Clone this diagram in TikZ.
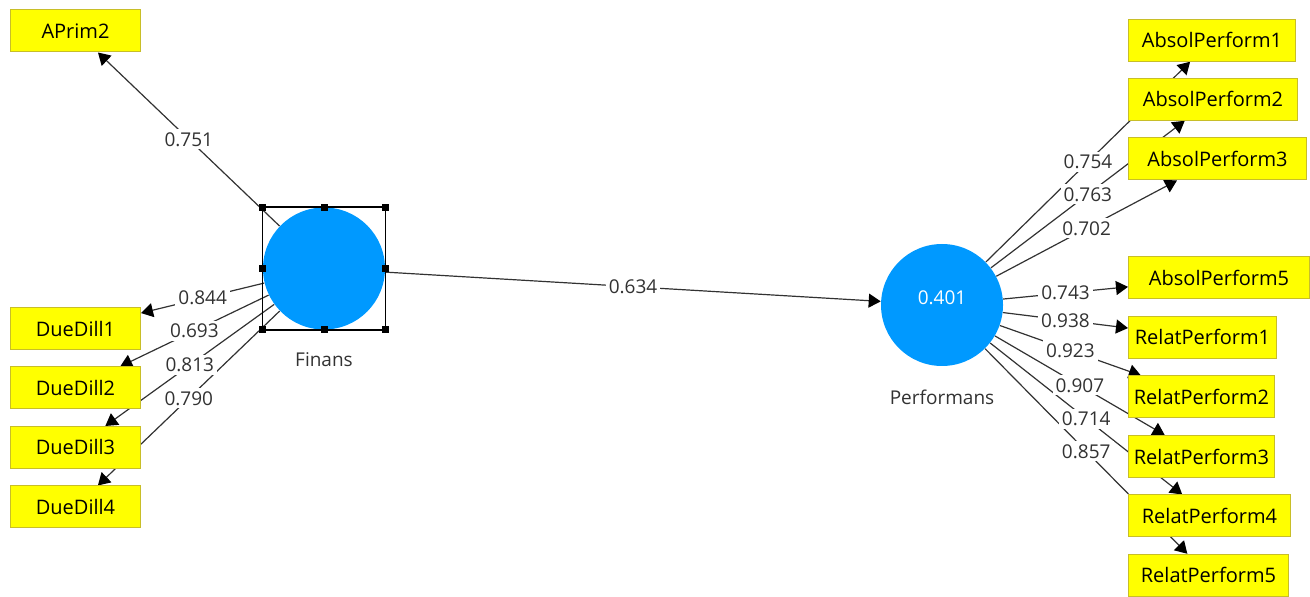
\documentclass[tikz,border=0pt]{standalone}
\usepackage{fontspec}
\setmainfont{Open Sans}
\usetikzlibrary{arrows.meta}

\definecolor{plsblue}{RGB}{0,153,255}
\definecolor{plsyellow}{RGB}{255,255,0}
\definecolor{plsborder}{RGB}{200,190,40}
\definecolor{plsgray}{RGB}{50,50,50}

\pgfdeclarelayer{edges}
\pgfdeclarelayer{weights}
\pgfsetlayers{edges,weights,main}

\tikzset{
	indicator/.style={draw=plsborder, fill=plsyellow, line width=0.5pt, anchor=west,
		minimum height=21pt, inner sep=0pt, font=\fontsize{10}{12}\selectfont},
	construct/.style={circle, fill=plsblue, minimum size=61pt, inner sep=0pt},
	conname/.style={label distance=8pt, text=plsgray, font=\fontsize{9.5}{11}\selectfont},
	loading/.style={draw=plsgray, line width=0.6pt, -{Triangle[length=6pt,width=7pt,color=black]}},
	weight/.style={midway, fill=white, inner sep=1.5pt, text=plsgray, font=\fontsize{9.5}{11}\selectfont}
}

\begin{document}
\begin{tikzpicture}[x=0.5pt,y=-0.5pt]
	\useasboundingbox (0,0) rectangle (1310,597);
	% constructs
		\node[construct, label={[conname]below:Finans}] (Finans) at (324,268.5) {};
		\node[construct, label={[conname]below:Performans},
			label={[text=white, font=\fontsize{9.5}{11}\selectfont, yshift=3.5pt]center:0.401}] (Performans) at (942,305) {};
	% indicators of Finans
		\node[indicator, minimum width=65pt] (APrim2) at (10,31) {APrim2};
		\node[indicator, minimum width=65pt] (DueDill1) at (10,329) {DueDill1};
		\node[indicator, minimum width=65pt] (DueDill2) at (10,388) {DueDill2};
		\node[indicator, minimum width=65pt] (DueDill3) at (10,447.5) {DueDill3};
		\node[indicator, minimum width=65pt] (DueDill4) at (10,507) {DueDill4};
	% indicators of Performans
		\node[indicator, minimum width=83.5pt] (AbsolPerform1) at (1128,40.3) {AbsolPerform1};
		\node[indicator, minimum width=84.5pt] (AbsolPerform2) at (1128,99.3) {AbsolPerform2};
		\node[indicator, minimum width=89pt] (AbsolPerform3) at (1128,159) {AbsolPerform3};
		\node[indicator, minimum width=90.5pt] (AbsolPerform5) at (1128,278) {AbsolPerform5};
		\node[indicator, minimum width=74pt] (RelatPerform1) at (1128,337.3) {RelatPerform1};
		\node[indicator, minimum width=73pt] (RelatPerform2) at (1128,397) {RelatPerform2};
		\node[indicator, minimum width=73pt] (RelatPerform3) at (1128,456.5) {RelatPerform3};
		\node[indicator, minimum width=81pt] (RelatPerform4) at (1128,516) {RelatPerform4};
		\node[indicator, minimum width=80pt] (RelatPerform5) at (1128,575.3) {RelatPerform5};
	% selection frame round Finans
		\draw[line width=0.7pt] (Finans.west |- Finans.north) rectangle (Finans.east |- Finans.south);
		\foreach \h/\v in {west/north, center/north, east/north, east/center,
				east/south, center/south, west/south, west/center}
			\fill (Finans.\h |- Finans.\v) +(-3.5,-3.5) rectangle +(3.5,3.5);
	% loadings and path coefficient
		\foreach \from/\to/\w in {Finans/APrim2/0.751, Finans/DueDill1/0.844,
				Finans/DueDill2/0.693, Finans/DueDill3/0.813, Finans/DueDill4/0.790,
				Finans/Performans/0.634,
				Performans/AbsolPerform1/0.754, Performans/AbsolPerform2/0.763,
				Performans/AbsolPerform3/0.702, Performans/AbsolPerform5/0.743,
				Performans/RelatPerform1/0.938, Performans/RelatPerform2/0.923,
				Performans/RelatPerform3/0.907, Performans/RelatPerform4/0.714,
				Performans/RelatPerform5/0.857}
		{
			\begin{pgfonlayer}{edges}
				\draw[loading] (\from) -- (\to);
			\end{pgfonlayer}
			\begin{pgfonlayer}{weights}
				\path (\from) -- (\to) node[weight] {\w};
			\end{pgfonlayer}
		}
\end{tikzpicture}
\end{document}
